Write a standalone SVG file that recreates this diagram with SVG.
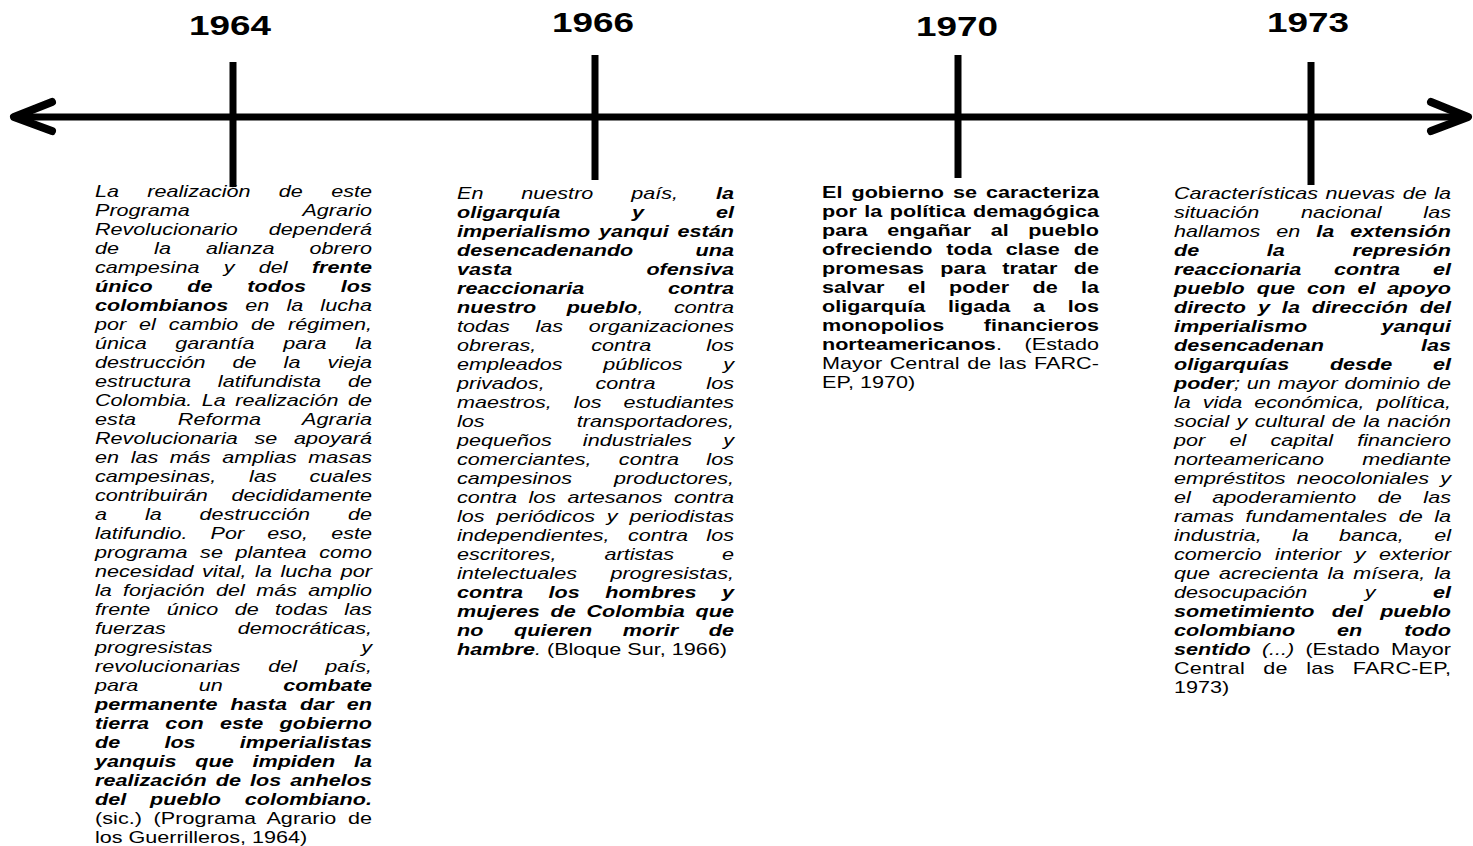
<svg xmlns="http://www.w3.org/2000/svg" width="1473" height="846" viewBox="0 0 1473 846">
<style>
.t{font-family:"Liberation Sans",Arial,sans-serif;font-size:16.4px;fill:#000}
.i{font-style:italic}
.b{font-weight:bold}
.u{font-style:normal;font-weight:normal}
.r{font-weight:normal}
.yr{font-family:"Liberation Sans",Arial,sans-serif;font-size:28px;font-weight:bold;fill:#000}
.ln{stroke:#000;stroke-width:7;fill:none}
.ar{stroke:#000;stroke-width:8;fill:none;stroke-linecap:round;stroke-linejoin:round}
</style>
<rect width="1473" height="846" fill="#fff"/>

<g id="node-1964">
<g transform="translate(230,35) scale(1.317,1)"><text class="yr" x="0" y="0" text-anchor="middle">1964</text></g>
<g transform="translate(95,0) scale(1.317,1)">
<text class="t i" x="0" y="197" style="word-spacing:16.91px" textLength="210.3" lengthAdjust="spacing">La realización de este</text>
<text class="t i" x="0" y="216">Programa</text><text class="t i" x="210.3" y="216" text-anchor="end">Agrario</text>
<text class="t i" x="0" y="235">Revolucionario</text><text class="t i" x="210.3" y="235" text-anchor="end">dependerá</text>
<text class="t i" x="0" y="254" style="word-spacing:22.07px" textLength="210.3" lengthAdjust="spacing">de la alianza obrero</text>
<text class="t i" x="0" y="273" style="word-spacing:13.87px" textLength="210.3" lengthAdjust="spacing">campesina y del <tspan class="b">frente</tspan></text>
<text class="t i b" x="0" y="292" style="word-spacing:21.78px" textLength="210.3" lengthAdjust="spacing">único de todos los</text>
<text class="t i" x="0" y="311" style="word-spacing:8.41px" textLength="210.3" lengthAdjust="spacing"><tspan class="b">colombianos</tspan> en la lucha</text>
<text class="t i" x="0" y="330" style="word-spacing:5.17px" textLength="210.3" lengthAdjust="spacing">por el cambio de régimen,</text>
<text class="t i" x="0" y="349" style="word-spacing:17.2px" textLength="210.3" lengthAdjust="spacing">única garantía para la</text>
<text class="t i" x="0" y="368" style="word-spacing:16.01px" textLength="210.3" lengthAdjust="spacing">destrucción de la vieja</text>
<text class="t i" x="0" y="387" style="word-spacing:15.79px" textLength="210.3" lengthAdjust="spacing">estructura latifundista de</text>
<text class="t i" x="0" y="406" style="word-spacing:2.64px" textLength="210.3" lengthAdjust="spacing">Colombia. La realización de</text>
<text class="t i" x="0" y="425" style="word-spacing:27.21px" textLength="210.3" lengthAdjust="spacing">esta Reforma Agraria</text>
<text class="t i" x="0" y="444" style="word-spacing:8.05px" textLength="210.3" lengthAdjust="spacing">Revolucionaria se apoyará</text>
<text class="t i" x="0" y="463" style="word-spacing:4.26px" textLength="210.3" lengthAdjust="spacing">en las más amplias masas</text>
<text class="t i" x="0" y="482" style="word-spacing:20.37px" textLength="210.3" lengthAdjust="spacing">campesinas, las cuales</text>
<text class="t i" x="0" y="501">contribuirán</text><text class="t i" x="210.3" y="501" text-anchor="end">decididamente</text>
<text class="t i" x="0" y="520" style="word-spacing:24.21px" textLength="210.3" lengthAdjust="spacing">a la destrucción de</text>
<text class="t i" x="0" y="539" style="word-spacing:12.96px" textLength="210.3" lengthAdjust="spacing">latifundio. Por eso, este</text>
<text class="t i" x="0" y="558" style="word-spacing:5.07px" textLength="210.3" lengthAdjust="spacing">programa se plantea como</text>
<text class="t i" x="0" y="577" style="word-spacing:1.97px" textLength="210.3" lengthAdjust="spacing">necesidad vital, la lucha por</text>
<text class="t i" x="0" y="596" style="word-spacing:4.03px" textLength="210.3" lengthAdjust="spacing">la forjación del más amplio</text>
<text class="t i" x="0" y="615" style="word-spacing:7.89px" textLength="210.3" lengthAdjust="spacing">frente único de todas las</text>
<text class="t i" x="0" y="634">fuerzas</text><text class="t i" x="210.3" y="634" text-anchor="end">democráticas,</text>
<text class="t i" x="0" y="653">progresistas</text><text class="t i" x="210.3" y="653" text-anchor="end">y</text>
<text class="t i" x="0" y="672" style="word-spacing:16.71px" textLength="210.3" lengthAdjust="spacing">revolucionarias del país,</text>
<text class="t i" x="0" y="691" style="word-spacing:41.33px" textLength="210.3" lengthAdjust="spacing">para un <tspan class="b">combate</tspan></text>
<text class="t i b" x="0" y="710" style="word-spacing:5.38px" textLength="210.3" lengthAdjust="spacing">permanente hasta dar en</text>
<text class="t i b" x="0" y="729" style="word-spacing:7.81px" textLength="210.3" lengthAdjust="spacing">tierra con este gobierno</text>
<text class="t i b" x="0" y="748" style="word-spacing:29.01px" textLength="210.3" lengthAdjust="spacing">de los imperialistas</text>
<text class="t i b" x="0" y="767" style="word-spacing:9.63px" textLength="210.3" lengthAdjust="spacing">yanquis que impiden la</text>
<text class="t i b" x="0" y="786" style="word-spacing:2.33px" textLength="210.3" lengthAdjust="spacing">realización de los anhelos</text>
<text class="t i b" x="0" y="805" style="word-spacing:13.55px" textLength="210.3" lengthAdjust="spacing">del pueblo colombiano.</text>
<text class="t" x="0" y="824" style="word-spacing:4.17px" textLength="210.3" lengthAdjust="spacing">(sic.) (Programa Agrario de</text>
<text class="t" x="0" y="843">los Guerrilleros, 1964)</text>
</g>
</g>

<g id="node-1966">
<g transform="translate(593,32) scale(1.317,1)"><text class="yr" x="0" y="0" text-anchor="middle">1966</text></g>
<g transform="translate(457,0) scale(1.317,1)">
<text class="t i" x="0" y="199" style="word-spacing:24.19px" textLength="210.3" lengthAdjust="spacing">En nuestro país, <tspan class="b">la</tspan></text>
<text class="t i b" x="0" y="218" style="word-spacing:49.99px" textLength="210.3" lengthAdjust="spacing">oligarquía y el</text>
<text class="t i b" x="0" y="237" style="word-spacing:2.13px" textLength="210.3" lengthAdjust="spacing">imperialismo yanqui están</text>
<text class="t i b" x="0" y="256">desencadenando</text><text class="t i b" x="210.3" y="256" text-anchor="end">una</text>
<text class="t i b" x="0" y="275">vasta</text><text class="t i b" x="210.3" y="275" text-anchor="end">ofensiva</text>
<text class="t i b" x="0" y="294">reaccionaria</text><text class="t i b" x="210.3" y="294" text-anchor="end">contra</text>
<text class="t i" x="0" y="313" style="word-spacing:18.55px" textLength="210.3" lengthAdjust="spacing"><tspan class="b">nuestro pueblo</tspan>, contra</text>
<text class="t i" x="0" y="332" style="word-spacing:14.89px" textLength="210.3" lengthAdjust="spacing">todas las organizaciones</text>
<text class="t i" x="0" y="351" style="word-spacing:37.23px" textLength="210.3" lengthAdjust="spacing">obreras, contra los</text>
<text class="t i" x="0" y="370" style="word-spacing:26.29px" textLength="210.3" lengthAdjust="spacing">empleados públicos y</text>
<text class="t i" x="0" y="389" style="word-spacing:34.03px" textLength="210.3" lengthAdjust="spacing">privados, contra los</text>
<text class="t i" x="0" y="408" style="word-spacing:12.15px" textLength="210.3" lengthAdjust="spacing">maestros, los estudiantes</text>
<text class="t i" x="0" y="427">los</text><text class="t i" x="210.3" y="427" text-anchor="end">transportadores,</text>
<text class="t i" x="0" y="446" style="word-spacing:18.99px" textLength="210.3" lengthAdjust="spacing">pequeños industriales y</text>
<text class="t i" x="0" y="465" style="word-spacing:16.27px" textLength="210.3" lengthAdjust="spacing">comerciantes, contra los</text>
<text class="t i" x="0" y="484">campesinos</text><text class="t i" x="210.3" y="484" text-anchor="end">productores,</text>
<text class="t i" x="0" y="503" style="word-spacing:4.15px" textLength="210.3" lengthAdjust="spacing">contra los artesanos contra</text>
<text class="t i" x="0" y="522" style="word-spacing:4.46px" textLength="210.3" lengthAdjust="spacing">los periódicos y periodistas</text>
<text class="t i" x="0" y="541" style="word-spacing:9.41px" textLength="210.3" lengthAdjust="spacing">independientes, contra los</text>
<text class="t i" x="0" y="560" style="word-spacing:31.77px" textLength="210.3" lengthAdjust="spacing">escritores, artistas e</text>
<text class="t i" x="0" y="579">intelectuales</text><text class="t i" x="210.3" y="579" text-anchor="end">progresistas,</text>
<text class="t i b" x="0" y="598" style="word-spacing:14.79px" textLength="210.3" lengthAdjust="spacing">contra los hombres y</text>
<text class="t i b" x="0" y="617" style="word-spacing:3.56px" textLength="210.3" lengthAdjust="spacing">mujeres de Colombia que</text>
<text class="t i b" x="0" y="636" style="word-spacing:18.75px" textLength="210.3" lengthAdjust="spacing">no quieren morir de</text>
<text class="t i" x="0" y="655"><tspan class="b">hambre</tspan>. <tspan class="u">(Bloque Sur, 1966)</tspan></text>
</g>
</g>

<g id="node-1970">
<g transform="translate(957,36) scale(1.317,1)"><text class="yr" x="0" y="0" text-anchor="middle">1970</text></g>
<g transform="translate(822,0) scale(1.317,1)">
<text class="t b" x="0" y="198" style="word-spacing:2.33px" textLength="210.3" lengthAdjust="spacing">El gobierno se caracteriza</text>
<text class="t b" x="0" y="217" style="word-spacing:1.12px" textLength="210.3" lengthAdjust="spacing">por la política demagógica</text>
<text class="t b" x="0" y="236" style="word-spacing:10.23px" textLength="210.3" lengthAdjust="spacing">para engañar al pueblo</text>
<text class="t b" x="0" y="255" style="word-spacing:5.99px" textLength="210.3" lengthAdjust="spacing">ofreciendo toda clase de</text>
<text class="t b" x="0" y="274" style="word-spacing:7.81px" textLength="210.3" lengthAdjust="spacing">promesas para tratar de</text>
<text class="t b" x="0" y="293" style="word-spacing:13.14px" textLength="210.3" lengthAdjust="spacing">salvar el poder de la</text>
<text class="t b" x="0" y="312" style="word-spacing:12.66px" textLength="210.3" lengthAdjust="spacing">oligarquía ligada a los</text>
<text class="t b" x="0" y="331">monopolios</text><text class="t b" x="210.3" y="331" text-anchor="end">financieros</text>
<text class="t b" x="0" y="350">norteamericanos<tspan class="r">.</tspan></text><text class="t" x="210.3" y="350" text-anchor="end">(Estado</text>
<text class="t" x="0" y="369" style="word-spacing:1.08px" textLength="210.3" lengthAdjust="spacing">Mayor Central de las FARC-</text>
<text class="t" x="0" y="388">EP, 1970)</text>
</g>
</g>

<g id="node-1973">
<g transform="translate(1308,32) scale(1.317,1)"><text class="yr" x="0" y="0" text-anchor="middle">1973</text></g>
<g transform="translate(1174,0) scale(1.317,1)">
<text class="t i" x="0" y="199" style="word-spacing:1.12px" textLength="210.3" lengthAdjust="spacing">Características nuevas de la</text>
<text class="t i" x="0" y="218" style="word-spacing:27.19px" textLength="210.3" lengthAdjust="spacing">situación nacional las</text>
<text class="t i" x="0" y="237" style="word-spacing:7.54px" textLength="210.3" lengthAdjust="spacing">hallamos en <tspan class="b">la extensión</tspan></text>
<text class="t i b" x="0" y="256" style="word-spacing:46.79px" textLength="210.3" lengthAdjust="spacing">de la represión</text>
<text class="t i b" x="0" y="275" style="word-spacing:20.35px" textLength="210.3" lengthAdjust="spacing">reaccionaria contra el</text>
<text class="t i b" x="0" y="294" style="word-spacing:4.49px" textLength="210.3" lengthAdjust="spacing">pueblo que con el apoyo</text>
<text class="t i b" x="0" y="313" style="word-spacing:4.48px" textLength="210.3" lengthAdjust="spacing">directo y la dirección del</text>
<text class="t i b" x="0" y="332">imperialismo</text><text class="t i b" x="210.3" y="332" text-anchor="end">yanqui</text>
<text class="t i b" x="0" y="351">desencadenan</text><text class="t i b" x="210.3" y="351" text-anchor="end">las</text>
<text class="t i b" x="0" y="370" style="word-spacing:26.29px" textLength="210.3" lengthAdjust="spacing">oligarquías desde el</text>
<text class="t i" x="0" y="389" style="word-spacing:0.61px" textLength="210.3" lengthAdjust="spacing"><tspan class="b">poder</tspan>; un mayor dominio de</text>
<text class="t i" x="0" y="408" style="word-spacing:4.46px" textLength="210.3" lengthAdjust="spacing">la vida económica, política,</text>
<text class="t i" x="0" y="427" style="word-spacing:1.03px" textLength="210.3" lengthAdjust="spacing">social y cultural de la nación</text>
<text class="t i" x="0" y="446" style="word-spacing:13.87px" textLength="210.3" lengthAdjust="spacing">por el capital financiero</text>
<text class="t i" x="0" y="465">norteamericano</text><text class="t i" x="210.3" y="465" text-anchor="end">mediante</text>
<text class="t i" x="0" y="484" style="word-spacing:3.95px" textLength="210.3" lengthAdjust="spacing">empréstitos neocoloniales y</text>
<text class="t i" x="0" y="503" style="word-spacing:11.74px" textLength="210.3" lengthAdjust="spacing">el apoderamiento de las</text>
<text class="t i" x="0" y="522" style="word-spacing:4.15px" textLength="210.3" lengthAdjust="spacing">ramas fundamentales de la</text>
<text class="t i" x="0" y="541" style="word-spacing:18.43px" textLength="210.3" lengthAdjust="spacing">industria, la banca, el</text>
<text class="t i" x="0" y="560" style="word-spacing:5.69px" textLength="210.3" lengthAdjust="spacing">comercio interior y exterior</text>
<text class="t i" x="0" y="579" style="word-spacing:2.2px" textLength="210.3" lengthAdjust="spacing">que acrecienta la mísera, la</text>
<text class="t i" x="0" y="598" style="word-spacing:39.03px" textLength="210.3" lengthAdjust="spacing">desocupación y <tspan class="b">el</tspan></text>
<text class="t i b" x="0" y="617" style="word-spacing:8.53px" textLength="210.3" lengthAdjust="spacing">sometimiento del pueblo</text>
<text class="t i b" x="0" y="636" style="word-spacing:27.22px" textLength="210.3" lengthAdjust="spacing">colombiano en todo</text>
<text class="t i" x="0" y="655" style="word-spacing:3.85px" textLength="210.3" lengthAdjust="spacing"><tspan class="b">sentido</tspan> (...) <tspan class="u">(Estado Mayor</tspan></text>
<text class="t" x="0" y="674" style="word-spacing:9.33px" textLength="210.3" lengthAdjust="spacing">Central de las FARC-EP,</text>
<text class="t" x="0" y="693">1973)</text>
</g>
</g>

<g id="connectors">
<line class="ln" x1="16" y1="117" x2="1466" y2="117"/>
<polyline class="ar" points="52,102 14,117 52,131"/>
<polyline class="ar" points="1431,102 1468,117 1431,131"/>
<line class="ln" x1="233" y1="62" x2="233" y2="187"/>
<line class="ln" x1="595" y1="55" x2="595" y2="180"/>
<line class="ln" x1="958" y1="55" x2="958" y2="178"/>
<line class="ln" x1="1311" y1="62" x2="1311" y2="185"/>
</g>
</svg>
